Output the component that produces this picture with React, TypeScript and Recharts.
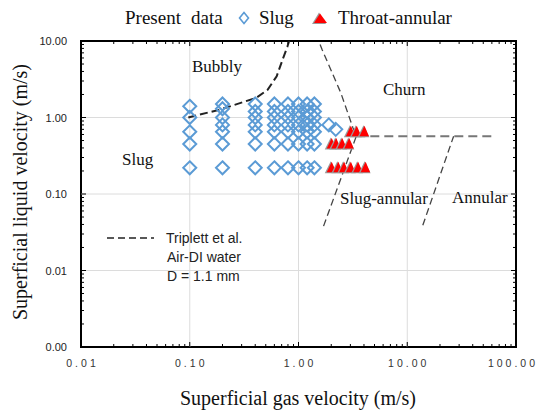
import React from "react";
import {
  ScatterChart, Scatter, XAxis, YAxis, ReferenceLine, ReferenceArea,
} from "recharts";

if (typeof document !== "undefined") document.body.style.margin = "0";

const W = 539;
const H = 411;
const PLOT = { left: 81, right: 516, top: 41, bottom: 347 };

const SERIF = "'Liberation Serif', 'Times New Roman', serif";
const SANS = "'Liberation Sans', Arial, sans-serif";

// gas / liquid superficial velocities (m/s)
const slugPoints = [
  { x: 0.1, y: 1.4 }, { x: 0.1, y: 1.0 }, { x: 0.1, y: 0.65 }, { x: 0.1, y: 0.45 }, { x: 0.1, y: 0.22 },
  { x: 0.2, y: 1.5 }, { x: 0.2, y: 1.3 }, { x: 0.2, y: 1.0 }, { x: 0.2, y: 0.8 }, { x: 0.2, y: 0.65 }, { x: 0.2, y: 0.45 }, { x: 0.2, y: 0.22 },
  { x: 0.4, y: 1.5 }, { x: 0.4, y: 1.2 }, { x: 0.4, y: 1.0 }, { x: 0.4, y: 0.8 }, { x: 0.4, y: 0.65 }, { x: 0.4, y: 0.45 }, { x: 0.4, y: 0.22 },
  { x: 0.6, y: 1.5 }, { x: 0.6, y: 1.2 }, { x: 0.6, y: 1.0 }, { x: 0.6, y: 0.8 }, { x: 0.6, y: 0.65 }, { x: 0.6, y: 0.45 }, { x: 0.6, y: 0.22 },
  { x: 0.8, y: 1.5 }, { x: 0.8, y: 1.2 }, { x: 0.8, y: 1.0 }, { x: 0.8, y: 0.8 }, { x: 0.8, y: 0.65 }, { x: 0.8, y: 0.45 }, { x: 0.8, y: 0.22 },
  { x: 1.0, y: 1.5 }, { x: 1.0, y: 1.2 }, { x: 1.0, y: 1.0 }, { x: 1.0, y: 0.8 }, { x: 1.0, y: 0.65 }, { x: 1.0, y: 0.45 }, { x: 1.0, y: 0.22 },
  { x: 1.2, y: 1.5 }, { x: 1.2, y: 1.2 }, { x: 1.2, y: 1.0 }, { x: 1.2, y: 0.8 }, { x: 1.2, y: 0.65 }, { x: 1.2, y: 0.45 }, { x: 1.2, y: 0.22 },
  { x: 1.4, y: 1.5 }, { x: 1.4, y: 1.2 }, { x: 1.4, y: 1.0 }, { x: 1.4, y: 0.8 }, { x: 1.4, y: 0.65 }, { x: 1.4, y: 0.45 }, { x: 1.4, y: 0.22 },
  { x: 1.9, y: 0.8 }, { x: 2.2, y: 0.7 },
];

const throatPoints = [
  { x: 2.0, y: 0.22 }, { x: 2.3, y: 0.22 }, { x: 2.6, y: 0.22 }, { x: 3.0, y: 0.22 }, { x: 3.5, y: 0.22 }, { x: 4.1, y: 0.22 },
  { x: 2.0, y: 0.45 }, { x: 2.2, y: 0.45 }, { x: 2.5, y: 0.45 }, { x: 2.9, y: 0.45 },
  { x: 3.0, y: 0.65 }, { x: 3.4, y: 0.65 }, { x: 4.0, y: 0.65 },
];

// Triplett et al. transition boundaries
const bubblySlugLine = [
  { x: 0.097, y: 1.0 }, { x: 0.19, y: 1.27 }, { x: 0.41, y: 1.81 }, { x: 0.52, y: 2.3 },
  { x: 0.63, y: 3.46 }, { x: 0.72, y: 5.9 }, { x: 0.79, y: 8.4 }, { x: 0.82, y: 10 },
];
const churnLine = [
  { x: 1.58, y: 9.0 }, { x: 1.65, y: 7.7 }, { x: 2.45, y: 2.1 }, { x: 3.17, y: 0.73 }, { x: 3.4, y: 0.57 },
];
const slugAnnularLine = [{ x: 1.7, y: 0.038 }, { x: 3.4, y: 0.57 }];
const annularLine = [{ x: 13.9, y: 0.039 }, { x: 26.7, y: 0.57 }];
const churnAnnularLine = [{ x: 3.4, y: 0.57 }, { x: 60, y: 0.57 }];

const xMajor = [0.01, 0.1, 1, 10, 100];
const yMajor = [0.001, 0.01, 0.1, 1, 10];
const minorSteps = [2, 3, 4, 5, 6, 7, 8, 9];

const withMinors = (majors: number[]) => {
  const out: number[] = [];
  majors.forEach((m, i) => {
    out.push(m);
    if (i < majors.length - 1) minorSteps.forEach((s) => out.push(+(m * s).toPrecision(3)));
  });
  return out;
};
const xTicks = withMinors(xMajor);
const yTicks = withMinors(yMajor);

const isMajor = (v: number) => Math.abs(Math.log10(v) - Math.round(Math.log10(v))) < 1e-6;

function XTick(props: any) {
  const { x, payload } = props;
  const v = payload.value;
  const major = isMajor(v);
  const len = major ? 5 : 3;
  return (
    <g>
      <line x1={x} x2={x} y1={PLOT.bottom} y2={PLOT.bottom - len} stroke="#000" />
      <line x1={x} x2={x} y1={PLOT.top} y2={PLOT.top + len} stroke="#000" />
      {major && (
        <text x={x} y={367} dx={v >= 100 ? -3 : 1.5} textAnchor="middle" fontFamily={SANS}
          fontSize={10.5} letterSpacing={3} fill="#333">
          {v.toFixed(2)}
        </text>
      )}
    </g>
  );
}

function YTick(props: any) {
  const { y, payload } = props;
  const v = payload.value;
  const major = isMajor(v);
  const len = major ? 5 : 3;
  return (
    <g>
      <line x1={PLOT.left} x2={PLOT.left + len} y1={y} y2={y} stroke="#000" />
      <line x1={PLOT.right} x2={PLOT.right - len} y1={y} y2={y} stroke="#000" />
      {major && (
        <text x={67} y={y + 4} textAnchor="end" fontFamily={SANS} fontSize={11} fill="#222">
          {v.toFixed(2)}
        </text>
      )}
    </g>
  );
}

const Diamond = ({ cx, cy }: any) => (
  <path d={`M${cx},${cy - 6.5} L${cx + 6.5},${cy} L${cx},${cy + 6.5} L${cx - 6.5},${cy} Z`}
    fill="none" stroke="#5b9bd5" strokeWidth={2} />
);

const Triangle = ({ cx, cy }: any) => (
  <g>
    <path d={`M${cx - 6.5},${cy + 5.5} L${cx - 0.5},${cy - 6.5} L${cx + 5.5},${cy + 5.5} Z`} fill="#9a9a9a" />
    <path d={`M${cx - 4.5},${cy + 4.5} L${cx + 0.5},${cy - 6} L${cx + 5},${cy + 4.5} Z`} fill="#ff0000" />
  </g>
);

const NoDot = () => <g />;

const gridX = [0.1, 1, 10];
const gridY = [1, 0.1, 0.01];

export default function App() {
  return (
    <div style={{ position: "relative", width: W, height: H, background: "#fff" }}>
      <ScatterChart
        width={W}
        height={H}
        margin={{ top: PLOT.top, right: W - PLOT.right, bottom: 0, left: 0 }}
      >
        <XAxis
          type="number" dataKey="x" scale="log" domain={[0.01, 100]} allowDataOverflow
          ticks={xTicks} interval={0} height={H - PLOT.bottom}
          tickLine={false} axisLine={false} tick={(p: any) => <XTick {...p} />}
        />
        <YAxis
          type="number" dataKey="y" scale="log" domain={[0.001, 10]} allowDataOverflow
          ticks={yTicks} interval={0} width={PLOT.left}
          tickLine={false} axisLine={false} tick={(p: any) => <YTick {...p} />}
        />
        {gridX.map((v) => (
          <ReferenceLine key={`gx${v}`} x={v} stroke="#dcdcdc" strokeWidth={1} />
        ))}
        {gridY.map((v) => (
          <ReferenceLine key={`gy${v}`} y={v} stroke="#dcdcdc" strokeWidth={1} />
        ))}
        <ReferenceArea x1={0.01} x2={100} y1={0.001} y2={10} fill="none" stroke="#000" strokeWidth={2} fillOpacity={0} />
        <Scatter data={bubblySlugLine} shape={NoDot} isAnimationActive={false}
          line={{ stroke: "#222", strokeWidth: 2, strokeDasharray: "8 4" }} />
        <Scatter data={churnLine} shape={NoDot} isAnimationActive={false}
          line={{ stroke: "#444", strokeWidth: 1.3, strokeDasharray: "7 4" }} />
        <Scatter data={slugAnnularLine} shape={NoDot} isAnimationActive={false}
          line={{ stroke: "#444", strokeWidth: 1.3, strokeDasharray: "7 4" }} />
        <Scatter data={annularLine} shape={NoDot} isAnimationActive={false}
          line={{ stroke: "#444", strokeWidth: 1.3, strokeDasharray: "7 4" }} />
        <Scatter data={churnAnnularLine} shape={NoDot} isAnimationActive={false}
          line={{ stroke: "#777", strokeWidth: 2, strokeDasharray: "9 5" }} />
        <Scatter data={slugPoints} shape={Diamond} isAnimationActive={false} />
        <Scatter data={throatPoints} shape={Triangle} isAnimationActive={false} />
      </ScatterChart>

      <svg width={W} height={H} style={{ position: "absolute", left: 0, top: 0, pointerEvents: "none" }}>
        {/* top legend */}
        <g fontFamily={SERIF} fontSize={19} fill="#111">
          <text x={125} y={24}>Present</text>
          <text x={191} y={24}>data</text>
          <path d="M244,12.5 L248.5,18 L244,23.5 L239.5,18 Z" fill="none" stroke="#5b9bd5" strokeWidth={1.6} />
          <text x={259} y={24}>Slug</text>
          <path d="M312,24 L319,12.5 L326,24 Z" fill="#9a9a9a" />
          <path d="M314,23 L320,13.5 L327,23 Z" fill="#ff0000" />
          <text x={338} y={24}>Throat-annular</text>
        </g>

        {/* flow regime labels */}
        <g fontFamily={SERIF} fontSize={17} fill="#111">
          <text x={192} y={72}>Bubbly</text>
          <text x={383} y={95}>Churn</text>
          <text x={122} y={165}>Slug</text>
          <text x={340} y={204}>Slug-annular</text>
          <text x={452} y={203}>Annular</text>
        </g>

        {/* inner legend */}
        <line x1={107} x2={154} y1={238} y2={238} stroke="#222" strokeWidth={1.5} strokeDasharray="7 4" />
        <g fontFamily={SANS} fontSize={14} fill="#222">
          <text x={166} y={243}>Triplett et al.</text>
          <text x={167} y={262}>Air-DI water</text>
          <text x={167} y={281}>D = 1.1 mm</text>
        </g>

        {/* axis titles */}
        <text x={298} y={405} textAnchor="middle" fontFamily={SERIF} fontSize={20} fill="#111">
          Superficial gas velocity (m/s)
        </text>
        <text x={27} y={192} textAnchor="middle" fontFamily={SERIF} fontSize={20} fill="#111"
          transform="rotate(-90 27 192)">
          Superficial liquid velocity (m/s)
        </text>
      </svg>
    </div>
  );
}
